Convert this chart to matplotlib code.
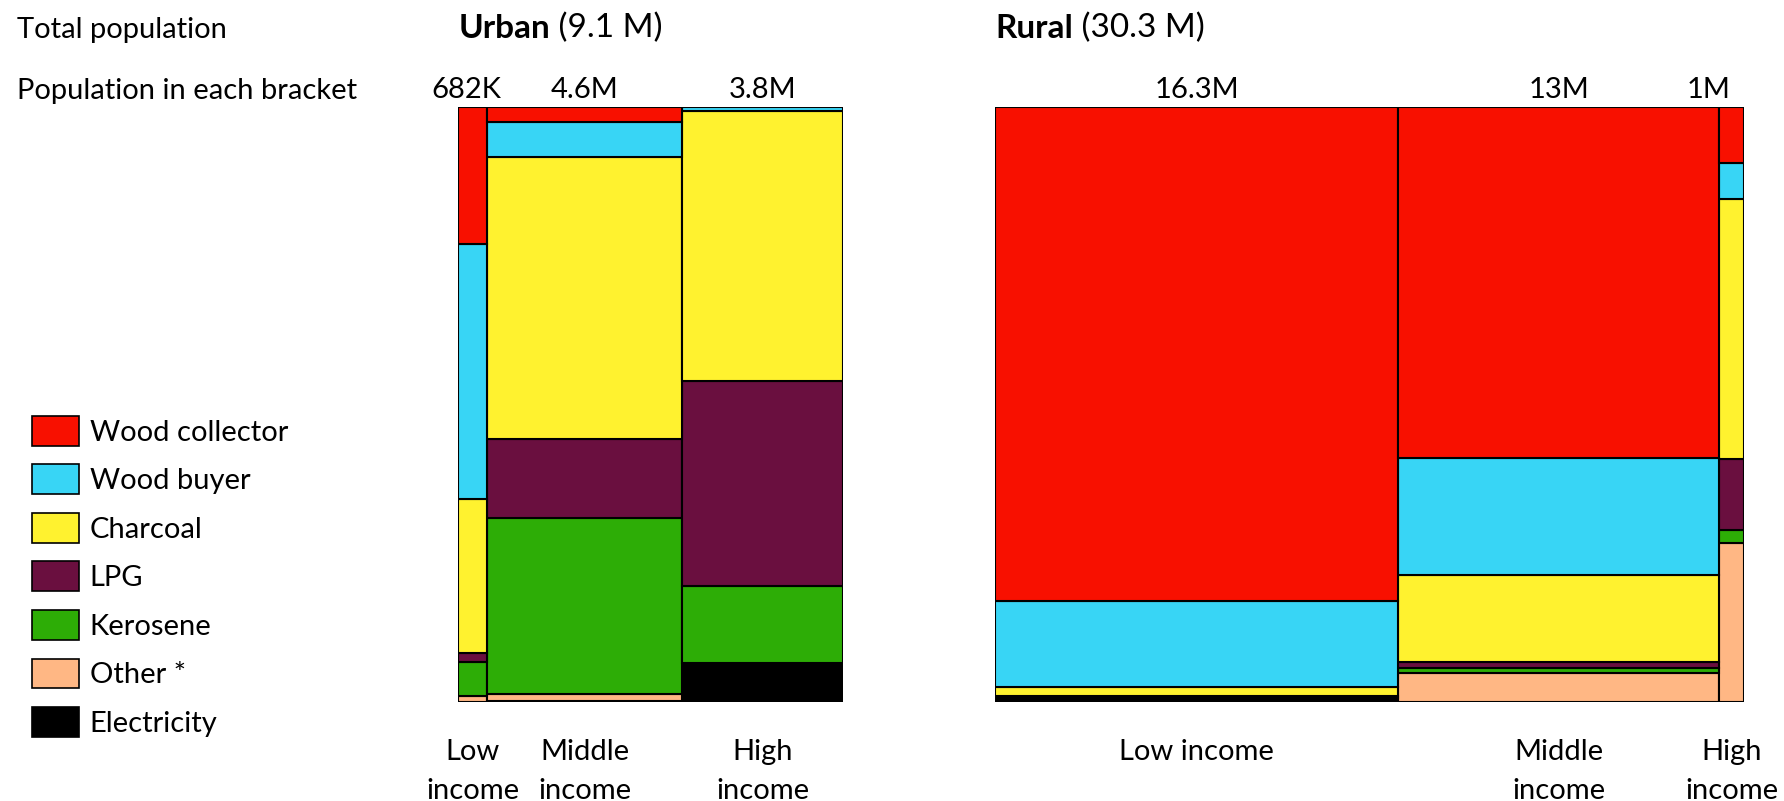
import numpy as np
from matplotlib import pyplot as plt
from matplotlib.patches import Patch

plt.rcParams['font.family'] = ['Lato', 'DejaVu Sans']

fuels = ["Wood collector", "Wood buyer", "Charcoal", "LPG", "Kerosene", "Other *", "Electricity"]
colors = ["#F81000", "#38D5F5", "#FFF22F", "#6A0F3F", "#2DAD06", "#FFB784", "#000000"]

# population per income bracket (millions): low, middle, high
urban_pop = [0.682, 4.6, 3.8]
rural_pop = [16.3, 13.0, 1.0]
urban_labels = ["682K", "4.6M", "3.8M"]
rural_labels = ["16.3M", "13M", "1M"]
urban_income = ["Low\nincome", "Middle\nincome", "High\nincome"]
rural_income = ["Low income", "Middle\nincome", "High\nincome"]

# share of each fuel (%) per bracket, low / middle / high
urban_wood_collector = [23.0, 2.5, 0.0]
urban_wood_buyer = [42.8, 5.9, 0.6]
urban_charcoal = [26.0, 47.4, 45.5]
urban_lpg = [1.5, 13.2, 34.4]
urban_kerosene = [5.7, 29.6, 13.0]
urban_other = [1.0, 1.2, 0.0]
urban_electricity = [0.0, 0.2, 6.5]

rural_wood_collector = [83.0, 59.1, 9.4]
rural_wood_buyer = [14.5, 19.7, 6.1]
rural_charcoal = [1.5, 14.5, 43.6]
rural_lpg = [0.4, 1.0, 12.0]
rural_kerosene = [0.2, 1.0, 2.1]
rural_other = [0.4, 4.8, 26.8]
rural_electricity = [0.0, 0.0, 0.0]

urban = [urban_wood_collector, urban_wood_buyer, urban_charcoal, urban_lpg,
         urban_kerosene, urban_other, urban_electricity]
rural = [rural_wood_collector, rural_wood_buyer, rural_charcoal, rural_lpg,
         rural_kerosene, rural_other, rural_electricity]

fig = plt.figure(figsize=(17.84, 8.01), dpi=100)
FS = 21


def mosaic(ax, pop, shares, top_labels, bottom_labels, name, total, label_shift):
    pop = np.array(pop)
    shares = np.array(shares, dtype=float)
    shares = shares / shares.sum(axis=0)
    lefts = np.concatenate([[0], np.cumsum(pop)[:-1]])
    bottom = np.zeros(len(pop))
    # stack from the bottom: electricity, other, kerosene, ... wood collector
    for i in range(len(fuels) - 1, -1, -1):
        for j in range(len(pop)):
            if shares[i, j] > 0:
                ax.bar(lefts[j], shares[i, j], width=pop[j], bottom=bottom[j],
                       align='edge', color=colors[i], edgecolor='black', linewidth=1.5)
        bottom += shares[i]
    ax.set_xlim(0, pop.sum())
    ax.set_ylim(0, 1)
    ax.axis('off')
    centers = lefts + pop / 2
    trans = ax.get_xaxis_transform()
    for j in range(len(pop)):
        ax.annotate(top_labels[j], xy=(centers[j], 1.028), xycoords=trans,
                    xytext=(label_shift[j], 0), textcoords='offset points',
                    ha='center', va='center', fontsize=FS, annotation_clip=False)
        ax.text(centers[j], -0.063, bottom_labels[j], ha='center', va='top',
                fontsize=FS, linespacing=1.6, transform=trans, clip_on=False)
    t = ax.text(0, 1.132, name, fontsize=FS + 3, fontweight='bold', ha='left',
                va='center', transform=ax.transAxes)
    ax.annotate(" (%s)" % total, xy=(1, 0), xycoords=t, va='bottom', ha='left',
                fontsize=FS + 3)


ax_u = fig.add_axes([0.257, 0.1236, 0.2155, 0.7428])
mosaic(ax_u, urban_pop, urban, urban_labels, urban_income, "Urban", "9.1 M", [-5, 0, 0])

ax_r = fig.add_axes([0.558, 0.1236, 0.4196, 0.7428])
mosaic(ax_r, rural_pop, rural, rural_labels, rural_income, "Rural", "30.3 M", [0, 0, -17])

fig.text(0.0095, 0.962, "Total population", fontsize=FS, ha='left', va='center')
fig.text(0.0095, 0.886, "Population in each bracket", fontsize=FS, ha='left', va='center')

handles = [Patch(facecolor=c, edgecolor='black', linewidth=1.2) for c in colors]
fig.legend(handles, fuels, loc='upper left', bbox_to_anchor=(0.018, 0.481),
           frameon=False, fontsize=FS, handlelength=1.6, handleheight=1.2,
           labelspacing=0.64, handletextpad=0.38, borderpad=0, borderaxespad=0)

fig.savefig("out.png", dpi=100)
